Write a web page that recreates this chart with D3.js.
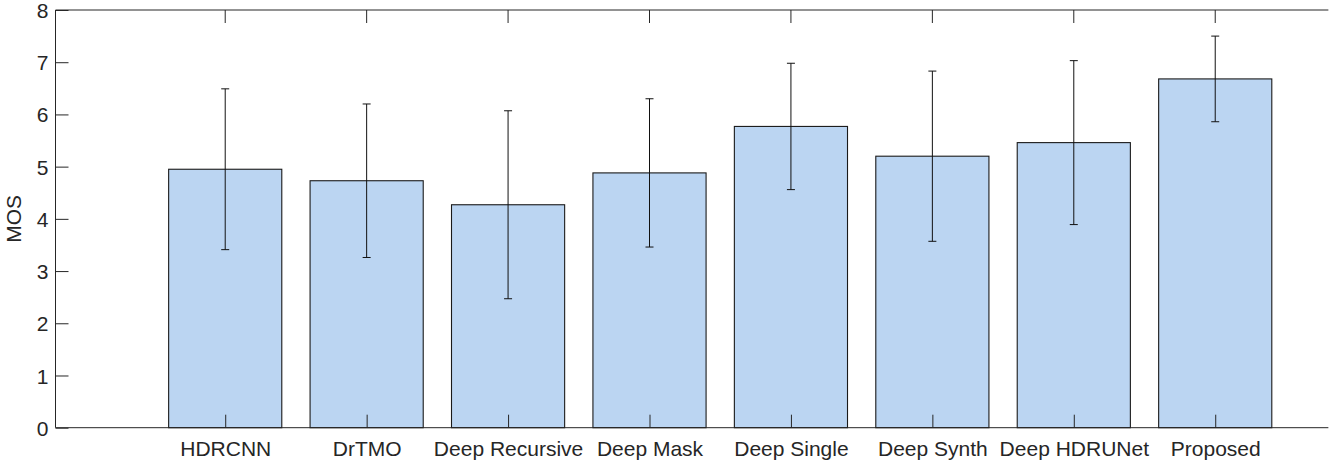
<!DOCTYPE html>
<html>
<head>
<meta charset="utf-8">
<script src="https://cdn.jsdelivr.net/npm/d3@7"></script>
<style>
  body { margin: 0; background: #fff; }
  text { font-family: "Liberation Sans", Arial, sans-serif; fill: #262626; }
</style>
</head>
<body>
<script>
// MOS per method, with symmetric error (std) for each bar
var methods = ['HDRCNN', 'DrTMO', 'Deep Recursive', 'Deep Mask', 'Deep Single',
               'Deep Synth', 'Deep HDRUNet', 'Proposed'];
var mos = [4.95, 4.73, 4.27, 4.88, 5.77, 5.20, 5.46, 6.68];
var err = [1.54, 1.47, 1.80, 1.42, 1.21, 1.63, 1.57, 0.82];
var yTicks = [0, 1, 2, 3, 4, 5, 6, 7, 8];

var width = 1330;
var height = 465;
var mLeft = 55.5, mTop = 10, mBottom = 427.7;
var fontSize = 21;

var svg = d3.select('body').append('svg')
  .attr('width', width)
  .attr('height', height);

// bar i sits at x = i + 1, axis limits as in the original figure
var x = d3.scaleLinear().domain([-0.2, 8.8]).range([mLeft, mLeft + 9 * 141.43]);
var y = d3.scaleLinear().domain([0, 8]).range([mBottom, mTop]);
var barW = 0.8 * (x(1) - x(0));

var data = methods.map(function(m, i) {
  return { name: m, pos: i + 1, v: mos[i], e: err[i] };
});

svg.selectAll('rect.bar')
  .data(data)
  .enter().append('rect')
  .attr('class', 'bar')
  .attr('x', function(d) { return x(d.pos) - barW / 2; })
  .attr('y', function(d) { return y(d.v); })
  .attr('width', barW)
  .attr('height', function(d) { return y(0) - y(d.v); })
  .attr('fill', '#bbd5f2')
  .attr('stroke', '#1a1a1a')
  .attr('stroke-width', 1.1);

// error bars
var eb = svg.selectAll('g.err')
  .data(data)
  .enter().append('g')
  .attr('class', 'err')
  .attr('stroke', '#111')
  .attr('stroke-width', 1);

eb.append('line')
  .attr('x1', function(d) { return x(d.pos); })
  .attr('x2', function(d) { return x(d.pos); })
  .attr('y1', function(d) { return y(d.v - d.e); })
  .attr('y2', function(d) { return y(d.v + d.e); });

[-1, 1].forEach(function(s) {
  eb.append('line')
    .attr('x1', function(d) { return x(d.pos) - 4; })
    .attr('x2', function(d) { return x(d.pos) + 4; })
    .attr('y1', function(d) { return y(d.v + s * d.e); })
    .attr('y2', function(d) { return y(d.v + s * d.e); });
});

// axes box with inward ticks
var axisColor = '#262626';
var mRight = x(8.8);

var yAxis = d3.axisLeft(y).tickValues(yTicks).tickSize(-13);
var gy = svg.append('g')
  .attr('transform', 'translate(' + mLeft + ',0)')
  .call(yAxis);
gy.select('.domain').remove();
gy.selectAll('.tick line').attr('stroke', axisColor);
gy.selectAll('.tick text')
  .attr('font-size', fontSize)
  .attr('font-family', '"Liberation Sans", Arial, sans-serif')
  .attr('fill', '#262626')
  .attr('dy', '0.36em')
  .attr('x', -7);

var xAxis = d3.axisBottom(x).tickValues(d3.range(1, 9))
  .tickFormat(function(d) { return methods[d - 1]; })
  .tickSize(-13);
var gx = svg.append('g')
  .attr('transform', 'translate(0,' + mBottom + ')')
  .call(xAxis);
gx.select('.domain').remove();
gx.selectAll('.tick line').attr('stroke', axisColor);
gx.selectAll('.tick text')
  .attr('font-size', fontSize)
  .attr('font-family', '"Liberation Sans", Arial, sans-serif')
  .attr('fill', '#262626')
  .attr('y', 13)
  .attr('dy', '0.71em');

// top ticks
svg.selectAll('line.topTick')
  .data(d3.range(1, 9))
  .enter().append('line')
  .attr('class', 'topTick')
  .attr('x1', function(d) { return x(d); })
  .attr('x2', function(d) { return x(d); })
  .attr('y1', mTop)
  .attr('y2', mTop + 13)
  .attr('stroke', axisColor);

svg.append('path')
  .attr('d', 'M' + mRight + ',' + mTop + 'H' + mLeft + 'V' + mBottom + 'H' + mRight)
  .attr('fill', 'none')
  .attr('stroke', axisColor)
  .attr('stroke-width', 1);

svg.append('text')
  .attr('transform', 'translate(21,' + ((mTop + mBottom) / 2) + ') rotate(-90)')
  .attr('text-anchor', 'middle')
  .attr('font-size', fontSize)
  .text('MOS');
</script>
</body>
</html>
